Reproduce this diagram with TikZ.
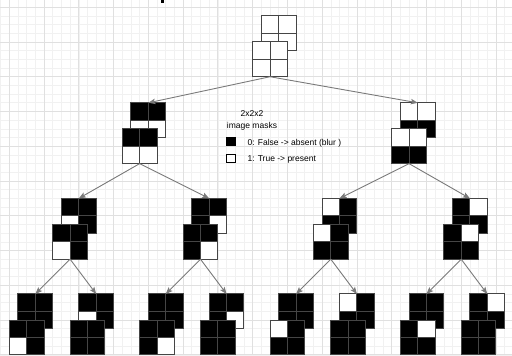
\documentclass[tikz,border=0pt]{standalone}
\usepackage{fontspec}
\setmainfont{Liberation Sans}
\usetikzlibrary{arrows.meta}

\definecolor{gridminor}{HTML}{F1F1F1}
\definecolor{gridmajor}{HTML}{E0E0E0}
\definecolor{cellline}{HTML}{454545}
\definecolor{linkgray}{HTML}{7A7A7A}
\colorlet{cellcol0}{black}
\colorlet{cellcol1}{white}

\tikzset{
  minorline/.style={gridminor, line width=0.6pt},
  majorline/.style={gridmajor, line width=0.8pt},
  cellbox/.style={draw=cellline, line width=1pt},
  squarenode/.style={rectangle, draw=none, inner sep=0pt, outer sep=0pt,
    minimum width=34.76pt, minimum height=34.76pt},
  link/.style={draw=linkgray, line width=0.9pt,
    -{Stealth[length=7pt,width=5.5pt,inset=1.5pt]}},
  legendtext/.style={font=\fontsize{8.5}{10}\selectfont, inner sep=0pt}
}

% one 2x2 layer: #1 node name, #2/#3 top-left corner, #4 cell values (TL,TR,BL,BR; 0 = black, 1 = white)
\newcommand\masklayer[4]{%
  \foreach \v [count=\k from 0] in {#4} {
    \pgfmathtruncatemacro\cx{mod(\k,2)*2}
    \pgfmathtruncatemacro\cy{int(\k/2)*2}
    \draw[cellbox, fill=cellcol\v] (#2+\cx,#3+\cy) rectangle ++(2,2);
  }
  \node[squarenode] (#1) at (#2+2,#3+2) {};
}
% a 2x2x2 mask: back layer at (#2,#3), front layer shifted left 1 and down 3
\newcommand\maskcube[5]{%
  \masklayer{#1b}{#2}{#3}{#4}
  \masklayer{#1f}{#2-1}{#3+3}{#5}
}

\begin{document}
\begin{tikzpicture}[x=8.69pt, y=-8.69pt]
  \useasboundingbox (-1.07,-0.829) rectangle (57.848,40.022);
  \clip (-1.07,-0.829) rectangle (57.848,40.022);
  \fill[white] (-1.07,-0.829) rectangle (57.848,40.022);

  % background grid
  \foreach \i in {-1,...,57} \draw[minorline] (\i,-0.829) -- (\i,40.022);
  \foreach \j in {0,...,40} \draw[minorline] (-1.07,\j) -- (57.848,\j);
  \foreach \i in {0,4,...,56} \draw[majorline] (\i,-0.829) -- (\i,40.022);
  \foreach \j in {0,4,...,40} \draw[majorline] (-1.07,\j) -- (57.848,\j);

  \fill[black] (17.46,-0.9) rectangle (17.77,-0.45);

  % masks
  \maskcube{r}{29}{1}{1,1,1,1}{1,1,1,1}

  \maskcube{a}{14}{11}{0,0,1,1}{0,0,1,1}
  \maskcube{b}{45}{11}{1,1,0,0}{1,1,0,0}

  \maskcube{aa}{6}{22}{0,0,1,0}{0,0,1,0}
  \maskcube{ab}{21}{22}{0,0,0,1}{0,0,0,1}
  \maskcube{ba}{36}{22}{1,0,0,0}{1,0,0,0}
  \maskcube{bb}{51}{22}{0,1,0,0}{0,1,0,0}

  \maskcube{aaa}{1}{33}{0,0,0,0}{0,0,1,0}
  \maskcube{aab}{8}{33}{0,0,1,0}{0,0,0,0}
  \maskcube{aba}{16}{33}{0,0,0,0}{0,0,0,1}
  \maskcube{abb}{23}{33}{0,0,0,1}{0,0,0,0}
  \maskcube{baa}{31}{33}{0,0,0,0}{1,0,0,0}
  \maskcube{bab}{38}{33}{1,0,0,0}{0,0,0,0}
  \maskcube{bba}{46}{33}{0,0,0,0}{0,1,0,0}
  \maskcube{bbb}{53}{33}{0,1,0,0}{0,0,0,0}

  % tree links
  \draw[link] (rf.south) -- (ab.north);
  \draw[link] (rf.south) -- (bb.north);
  \draw[link] (af.south) -- (aab.north);
  \draw[link] (af.south) -- (abb.north);
  \draw[link] (bf.south) -- (bab.north);
  \draw[link] (bf.south) -- (bbb.north);
  \draw[link] (aaf.south) -- (aaab.north);
  \draw[link] (aaf.south) -- (aabb.north);
  \draw[link] (abf.south) -- (abab.north);
  \draw[link] (abf.south) -- (abbb.north);
  \draw[link] (baf.south) -- (baab.north);
  \draw[link] (baf.south) -- (babb.north);
  \draw[link] (bbf.south) -- (bbab.north);
  \draw[link] (bbf.south) -- (bbbb.north);

  % legend
  \node[legendtext, anchor=base] (lgtitle) at (27.93,12.52) {2x2x2};
  \node[legendtext, anchor=base] (lgsub) at (27.93,13.98) {image masks};
  \node[draw=black, fill=black, line width=0.8pt, inner sep=0pt, outer sep=0pt,
        minimum width=9pt, minimum height=8pt] (lgblack) at (25.5,15.4) {};
  \node[draw=black, fill=white, line width=0.8pt, inner sep=0pt, outer sep=0pt,
        minimum width=9pt, minimum height=8pt] (lgwhite) at (25.5,17.4) {};
  \node[legendtext, anchor=base west] (lgzero) at (27.4,15.89) {0: False -> absent (blur )};
  \node[legendtext, anchor=base west] (lgone) at (27.4,17.81) {1: True -> present};
\end{tikzpicture}
\end{document}
